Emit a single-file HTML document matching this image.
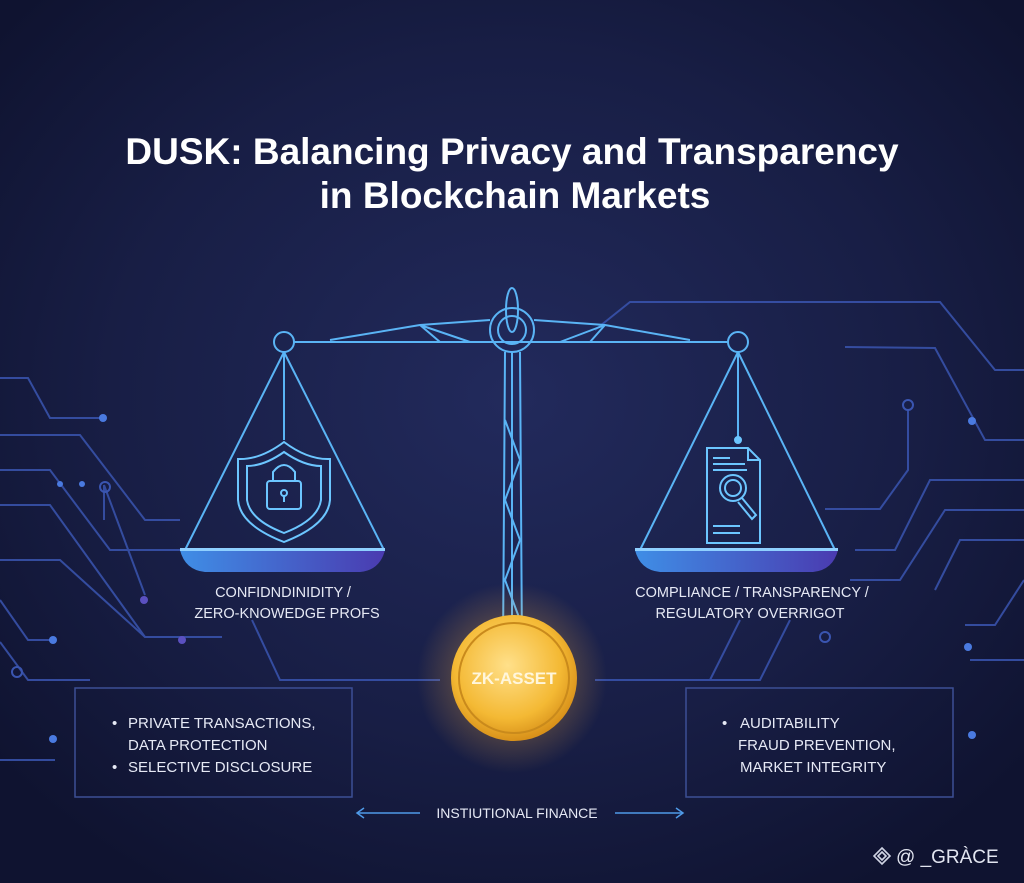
<!DOCTYPE html>
<html><head><meta charset="utf-8"><style>
html,body{margin:0;padding:0;width:1024px;height:883px;overflow:hidden;background:#151a3b}
svg{display:block}
text{font-family:"Liberation Sans","DejaVu Sans",sans-serif}
</style></head><body>
<svg width="1024" height="883" viewBox="0 0 1024 883" xmlns="http://www.w3.org/2000/svg">
<defs>
<radialGradient id="bg" cx="50%" cy="45%" r="65%">
<stop offset="0" stop-color="#222a5c"/><stop offset="0.6" stop-color="#181e45"/><stop offset="1" stop-color="#0f1330"/>
</radialGradient>
<radialGradient id="coin" cx="45%" cy="40%" r="60%">
<stop offset="0" stop-color="#ffe08a"/><stop offset="0.7" stop-color="#f4b934"/><stop offset="1" stop-color="#d8911a"/>
</radialGradient>
<radialGradient id="glow" cx="50%" cy="50%" r="50%">
<stop offset="0" stop-color="#ffb340" stop-opacity="0.55"/><stop offset="1" stop-color="#ffb340" stop-opacity="0"/>
</radialGradient>
<linearGradient id="pan" x1="0" x2="1" y1="0" y2="0">
<stop offset="0" stop-color="#3f8ee6"/><stop offset="1" stop-color="#4a3bb0"/>
</linearGradient>
</defs>
<rect width="1024" height="883" fill="url(#bg)"/>

<g fill="none" stroke="#3a55b0" stroke-width="2" opacity="0.85">
<path d="M0 378 H28 L50 418 H103"/>
<path d="M0 505 H50 L145 637 H222"/>
<path d="M0 560 H60 L145 637"/>
<path d="M0 435 H80 L145 520 H180"/>
<path d="M0 470 H50 L110 550 H232"/>
<path d="M0 600 L28 640 H53"/>
<path d="M0 642 L28 680 H90"/>
<path d="M0 760 H55"/>
<path d="M104 485 V520"/>
<path d="M104 485 L145 595"/>
<path d="M252 620 L280 680 H440"/>
<path d="M595 680 H760 L790 620"/>
<path d="M710 680 L740 620"/>
<path d="M595 330 L630 302 H940 L995 370 H1024"/>
<path d="M845 347 L935 348 L985 440 H1024"/>
<path d="M908 410 V470 L880 509 H825"/>
<path d="M1024 480 H930 L895 550 H855"/>
<path d="M1024 510 H945 L900 580 H850"/>
<path d="M1024 540 H960 L935 590"/>
<path d="M1024 580 L995 625 H965"/>
<path d="M1024 660 H970"/>
</g>
<g fill="#4a7ae0">
<circle cx="103" cy="418" r="4"/><circle cx="53" cy="640" r="4"/><circle cx="53" cy="739" r="4"/><circle cx="60" cy="484" r="3"/><circle cx="82" cy="484" r="3"/>
<circle cx="972" cy="421" r="4"/><circle cx="968" cy="647" r="4"/><circle cx="972" cy="735" r="4"/>
<circle cx="144" cy="600" r="4" fill="#5b50c0"/><circle cx="182" cy="640" r="4" fill="#5b50c0"/>
</g>
<g fill="none" stroke="#3a55b0" stroke-width="2">
<circle cx="105" cy="487" r="5"/><circle cx="17" cy="672" r="5"/><circle cx="908" cy="405" r="5"/><circle cx="825" cy="637" r="5"/>
</g>

<text x="512" y="164" text-anchor="middle" fill="#fff" font-size="37" font-weight="bold">DUSK: Balancing Privacy and Transparency</text>
<text x="515" y="208" text-anchor="middle" fill="#fff" font-size="37" font-weight="bold">in Blockchain Markets</text>

<g fill="none" stroke="#5ab4f5" stroke-width="2">
<path d="M294 342 H728"/>
<path d="M330 340 L420 325 L490 320 M534 320 L605 325 L690 340"/>
<path d="M420 325 L470 342 M605 325 L560 342 M420 325 L440 342 M605 325 L590 342"/>
<ellipse cx="512" cy="310" rx="6" ry="22"/>
<circle cx="512" cy="330" r="22"/><circle cx="512" cy="330" r="14"/>
<path d="M505 352 L503 650 M520 352 L522 650 M512 352 V650"/>
<path d="M505 420 L520 460 L505 500 L520 540 L505 580 L520 620"/>
<circle cx="284" cy="342" r="10"/><circle cx="738" cy="342" r="10"/>
<path d="M284 352 L185 550 M284 352 L384 550 M284 352 V440"/>
<path d="M738 352 L640 550 M738 352 L835 550 M738 352 V438"/>
</g>
<path d="M180 550 H385 Q380 570 360 572 H205 Q185 570 180 550 Z" fill="url(#pan)"/>
<path d="M635 550 H838 Q833 570 813 572 H660 Q640 570 635 550 Z" fill="url(#pan)"/>
<rect x="180" y="548" width="205" height="3" fill="#8fd0ff"/>
<rect x="635" y="548" width="203" height="3" fill="#8fd0ff"/>

<g fill="none" stroke="#6cc6ff" stroke-width="2">
<path d="M284 442 Q260 460 238 459 V500 Q240 525 284 542 Q328 525 330 500 V459 Q308 460 284 442 Z"/>
<path d="M284 452 Q264 466 247 466 V500 Q250 520 284 533 Q318 520 321 500 V466 Q304 466 284 452 Z"/>
<rect x="267" y="481" width="34" height="28" rx="3"/>
<path d="M273 481 V472 Q284 458 295 472 V481"/>
<circle cx="284" cy="493" r="3"/><path d="M284 496 V502"/>
</g>
<g fill="none" stroke="#6cc6ff" stroke-width="2">
<path d="M707 448 H748 L760 460 V543 H707 Z M748 448 V460 H760"/>
<path d="M713 458 H730 M713 464 H745 M713 470 H747 M713 526 H740 M713 533 H740"/>
<circle cx="733" cy="488" r="13"/><circle cx="733" cy="488" r="8"/>
<path d="M742 498 L756 515 L752 519 L738 502"/>
<circle cx="738" cy="440" r="3" fill="#6cc6ff"/>
</g>

<text x="283" y="597" text-anchor="middle" fill="#e6e9f5" font-size="14.5">CONFIDNDINIDITY /</text>
<text x="287" y="618" text-anchor="middle" fill="#e6e9f5" font-size="14.5">ZERO-KNOWEDGE PROFS</text>
<text x="752" y="597" text-anchor="middle" fill="#e6e9f5" font-size="14.5">COMPLIANCE / TRANSPARENCY /</text>
<text x="750" y="618" text-anchor="middle" fill="#e6e9f5" font-size="14.5">REGULATORY OVERRIGOT</text>

<circle cx="512" cy="678" r="95" fill="url(#glow)"/>
<circle cx="514" cy="678" r="63" fill="url(#coin)"/>
<circle cx="514" cy="678" r="55" fill="none" stroke="#c98a1c" stroke-width="2"/>
<text x="514" y="684" text-anchor="middle" fill="#fff6dc" font-size="17" font-weight="bold">ZK-ASSET</text>

<g fill="none" stroke="#3c4f95" stroke-width="1.5">
<rect x="75" y="688" width="277" height="109"/>
<rect x="686" y="688" width="267" height="109"/>
</g>
<g fill="#e6e9f5" font-size="15">
<text x="112" y="728">•</text><text x="128" y="728">PRIVATE TRANSACTIONS,</text>
<text x="128" y="750">DATA PROTECTION</text>
<text x="112" y="772">•</text><text x="128" y="772">SELECTIVE DISCLOSURE</text>
<text x="722" y="728">•</text><text x="740" y="728">AUDITABILITY</text>
<text x="738" y="750">FRAUD PREVENTION,</text>
<text x="740" y="772">MARKET INTEGRITY</text>
</g>

<g stroke="#4f9ae8" stroke-width="1.5" fill="none">
<path d="M358 813 H420 M615 813 H682"/>
<path d="M364 808 L357 813 L364 818 M676 808 L683 813 L676 818"/>
</g>
<text x="517" y="818" text-anchor="middle" fill="#e6e9f5" font-size="14">INSTIUTIONAL FINANCE</text>

<g fill="none" stroke="#d0d4e4" stroke-width="1.6">
<path d="M882 848 L890 856 L882 864 L874 856 Z"/><path d="M882 852 L886 856 L882 860 L878 856 Z"/>
</g>
<text x="896" y="863" fill="#e2e5f0" font-size="19">@ _GRÀCE</text>
</svg>
</body></html>
